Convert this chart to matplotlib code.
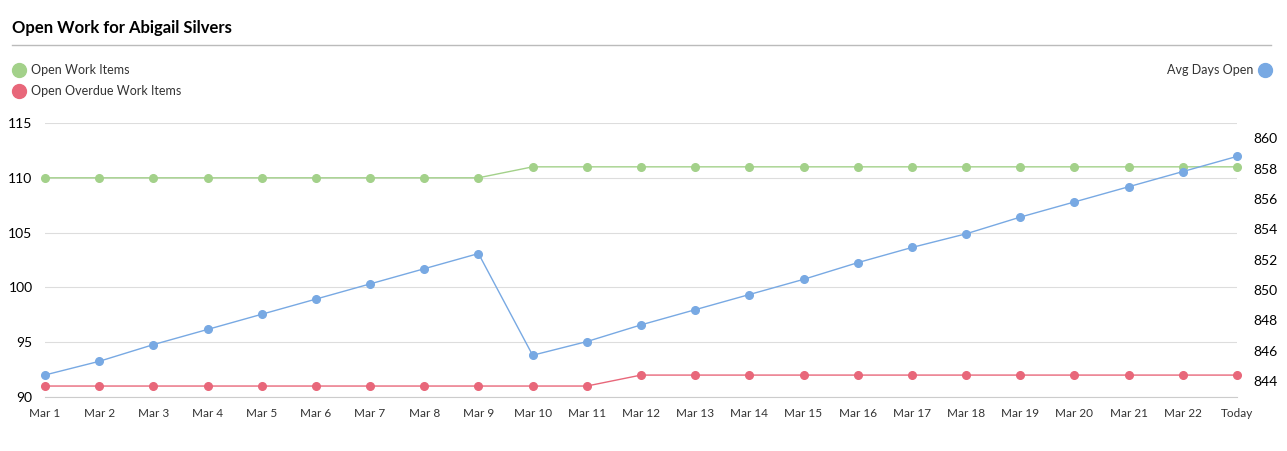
import matplotlib
matplotlib.use("Agg")
import matplotlib.pyplot as plt
from matplotlib.lines import Line2D

plt.rcParams['font.family'] = 'Lato'
dates = ["Mar 1","Mar 2","Mar 3","Mar 4","Mar 5","Mar 6","Mar 7","Mar 8","Mar 9","Mar 10","Mar 11",
         "Mar 12","Mar 13","Mar 14","Mar 15","Mar 16","Mar 17","Mar 18","Mar 19","Mar 20","Mar 21","Mar 22","Today"]
open_items = [110]*9 + [111]*14
overdue = [91]*11 + [92]*12
avg_days = [844.4,845.3,846.4,847.4,848.4,849.4,850.4,851.4,852.4,845.7,846.6,847.7,848.7,849.7,850.7,
            851.8,852.8,853.7,854.8,855.8,856.8,857.8,858.8]

green, red, blue = '#a3d18a', '#e8677a', '#78a9e3'
W, H = 1287, 451
fig = plt.figure(figsize=(W/100, H/100), dpi=100)
ax = fig.add_axes([45/W, 1-397/H, (1237-45)/W, (397-123)/H])
x = range(len(dates))
ax.plot(x, open_items, color=green, lw=1, marker='o', ms=5.5, clip_on=False, zorder=3)
ax.plot(x, overdue, color=red, lw=1, marker='o', ms=5.5, clip_on=False, zorder=3)
ax.set_ylim(90, 115)
ax.set_xlim(0, len(dates)-1)
ax.set_yticks([90,95,100,105,110,115])
ax.grid(axis='y', color='#dddddd', lw=0.8)
ax.set_xticks(list(x))
ax.set_xticklabels(dates, fontsize=8.5, color='#333333')
ax.tick_params(axis='x', length=0, pad=8)
ax.tick_params(axis='y', length=0, labelsize=10, pad=9)
for s in ['top','right','left']:
    ax.spines[s].set_visible(False)
ax.spines['bottom'].set_color('#cccccc')
ax2 = ax.twinx()
ax2.plot(x, avg_days, color=blue, lw=1, marker='o', ms=5.5, clip_on=False, zorder=3)
ax2.set_ylim(842.95, 861.0)
ax2.set_yticks(range(844, 861, 2))
ax2.tick_params(axis='y', length=0, labelsize=10, pad=12)
for s in ax2.spines.values():
    s.set_visible(False)

fig.text(12/W, 1-28/H, "Open Work for Abigail Silvers", fontsize=12, fontweight='bold', va='center')
fig.add_artist(Line2D([12/W, 1271/W], [1-45/H, 1-45/H], color='#bbbbbb', lw=1))
for yy, c, t in [(70, green, "Open Work Items"), (91, red, "Open Overdue Work Items")]:
    fig.add_artist(Line2D([19/W], [1-yy/H], marker='o', ms=10, color=c))
    fig.text(31/W, 1-yy/H, t, fontsize=9, va='center', color='#333333')
fig.add_artist(Line2D([1265/W], [1-70/H], marker='o', ms=10, color=blue))
fig.text(1253/W, 1-70/H, "Avg Days Open", fontsize=9, va='center', ha='right', color='#333333')
fig.savefig('out.png', dpi=100)
